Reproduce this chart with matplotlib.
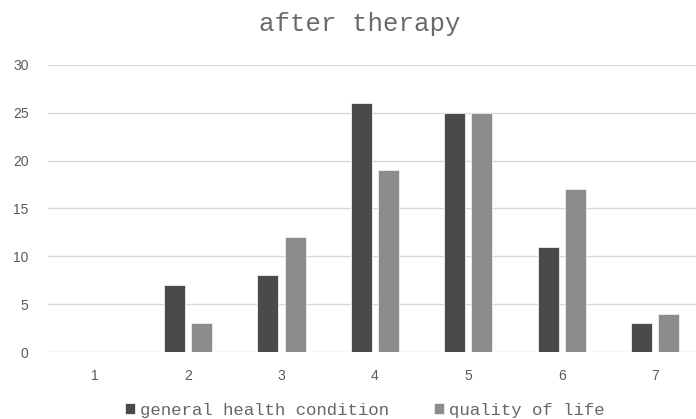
import matplotlib
matplotlib.use("Agg")
import matplotlib.pyplot as plt
import numpy as np

categories = ["1", "2", "3", "4", "5", "6", "7"]
general_health = [0, 7, 8, 26, 25, 11, 3]
quality_of_life = [0, 3, 12, 19, 25, 17, 4]
yticks = [0, 5, 10, 15, 20, 25, 30]

fig = plt.figure(figsize=(6.96, 4.19), dpi=100)
ax = fig.add_axes([48/696, (419-352)/419, 1 - 48/696, (352-65)/419])

x = np.arange(1, len(categories) + 1)
w = 0.225
off = 0.145
ax.bar(x - off, general_health, width=w, color="#4a4a4a", edgecolor="#f0f0f0", linewidth=0.6,
       label="general health condition", zorder=3)
ax.bar(x + off, quality_of_life, width=w, color="#8c8c8c", edgecolor="#f0f0f0", linewidth=0.6,
       label="quality of life", zorder=3)

ax.set_xlim(0.5, 0.5 + (696 - 48) / 93.4)
ax.set_ylim(0, 30)
ax.set_yticks(yticks)
ax.set_xticks(x)
ax.set_xticklabels(categories)
ax.grid(axis="y", color="#d9d9d9", linewidth=1, zorder=0)
for s in ax.spines.values():
    s.set_visible(False)
ax.tick_params(length=0, colors="#595959", labelsize=10, pad=12)
ax.tick_params(axis="y", pad=14)
for lab in ax.get_xticklabels() + ax.get_yticklabels():
    lab.set_fontfamily("Liberation Sans")

fig.text(360/696, 1 - 24/419, "after therapy", ha="center", va="center",
         fontfamily="Liberation Mono", fontsize=18.5, color="#6a6a6a")

leg = fig.legend(loc="center", bbox_to_anchor=(365/696, 1 - 410/419), ncol=2, frameon=False,
                 prop={"family": "Liberation Mono", "size": 12.5}, handlelength=0.55, handleheight=0.55,
                 handletextpad=0.3, columnspacing=2.6, labelcolor="#666666")

fig.savefig("out.png", dpi=100)
